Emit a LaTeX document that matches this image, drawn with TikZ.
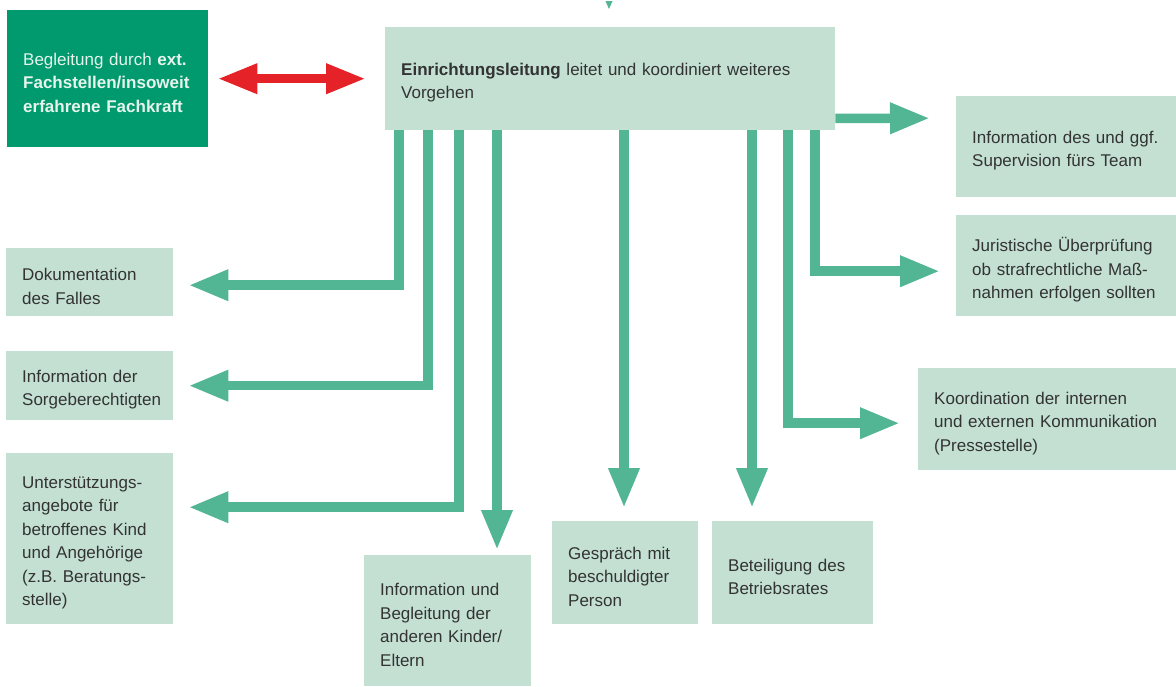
\documentclass[tikz,border=0pt]{standalone}
\usepackage{fontspec}
\setmainfont{Liberation Sans}
\usetikzlibrary{arrows.meta}
\definecolor{extc}{HTML}{009A6E}
\definecolor{boxc}{HTML}{C3E0D3}
\definecolor{arrc}{HTML}{52B593}
\definecolor{redc}{HTML}{E52228}
\definecolor{txtc}{HTML}{333333}
\definecolor{exttxt}{HTML}{E6F4EC}
\newcommand\fsz{\fontsize{17pt}{23.5pt}\selectfont}
\tikzset{
  basebox/.style n args={2}{anchor=north west, inner xsep=16pt, inner ysep=0pt,
    minimum width=#1pt, minimum height=#2pt, text width=#1pt-32pt,
    align=left, font=\fsz, execute at end node={\par\vspace*{-8pt}}},
  lbox/.style n args={2}{basebox={#1}{#2}, fill=boxc, text=txtc},
  ebox/.style n args={2}{basebox={#1}{#2}, fill=extc, text=exttxt},
  garr/.style={draw=arrc, line width=9.5pt, line join=miter,
    -{Triangle[length=40pt,width=29pt]}},
  rarr/.style={draw=redc, line width=9.5pt,
    {Triangle[length=40pt,width=28pt]}-{Triangle[length=40pt,width=28pt]}}
}
\begin{document}
\begin{tikzpicture}[x=1pt,y=-1pt]
\useasboundingbox (0,0) rectangle (1176,686);
% nodes
\node[ebox={201}{137}] (ext) at (7,10)
  {Begleitung durch \textbf{ext.}\\\textbf{Fachstellen/insoweit}\\\textbf{erfahrene Fachkraft}};
\node[lbox={450}{103}] (main) at (385,27)
  {\textbf{Einrichtungsleitung} leitet und koordiniert weiteres\\Vorgehen};
\node[lbox={220}{101}] (team) at (956,96)
  {Information des und ggf.\\Supervision fürs Team};
\node[lbox={220}{101}] (jur) at (956,215)
  {Juristische Überprüfung\\ob strafrechtliche Maß-\\nahmen erfolgen sollten};
\node[lbox={258}{102}] (koord) at (918,368)
  {Koordination der internen\\und externen Kommunikation\\(Pressestelle)};
\node[lbox={167}{68}] (doku) at (6,248)
  {Dokumentation\\des Falles};
\node[lbox={167}{69}] (sorge) at (6,351)
  {Information der\\Sorgeberechtigten};
\node[lbox={167}{171}] (unter) at (6,453)
  {Unterstützungs-\\angebote für\\betroffenes Kind\\und Angehörige\\(z.B. Beratungs-\\stelle)};
\node[lbox={167}{131}] (kinder) at (364,555)
  {Information und\\Begleitung der\\anderen Kinder/\\Eltern};
\node[lbox={146}{103}] (gespr) at (552,521)
  {Gespräch mit\\beschuldigter\\Person};
\node[lbox={161}{103}] (betr) at (712,521)
  {Beteiligung des\\Betriebsrates};
% connectors
\draw[rarr] ([xshift=9pt]ext.east) -- ([xshift=-19pt]main.west);
\draw[garr] ([xshift=14pt]main.south west) |- ([xshift=15pt,yshift=-3pt]doku.east);
\draw[garr] ([xshift=43pt]main.south west) |- ([xshift=15pt]sorge.east);
\draw[garr] ([xshift=74pt]main.south west) |- ([xshift=15pt,yshift=31.5pt]unter.east);
\draw[garr] ([xshift=112pt]main.south west) -- ([xshift=133pt,yshift=5pt]kinder.north west);
\draw[garr] ([xshift=239pt]main.south west) -- ([xshift=72pt,yshift=13pt]gespr.north west);
\draw[garr] ([xshift=367pt]main.south west) -- ([xshift=40pt,yshift=13pt]betr.north west);
\draw[garr] ([xshift=403pt]main.south west) |- ([xshift=-18pt,yshift=-4pt]koord.west);
\draw[garr] ([xshift=430pt]main.south west) |- ([xshift=-16pt,yshift=-5.5pt]jur.west);
\draw[garr] ([yshift=12pt]main.south east) -- ([xshift=-26pt,yshift=28.5pt]team.west);
% cut-off arrow tip at the top
\fill[arrc] (605.5,1) -- (612.5,1) -- (609,9) -- cycle;
\end{tikzpicture}
\end{document}
